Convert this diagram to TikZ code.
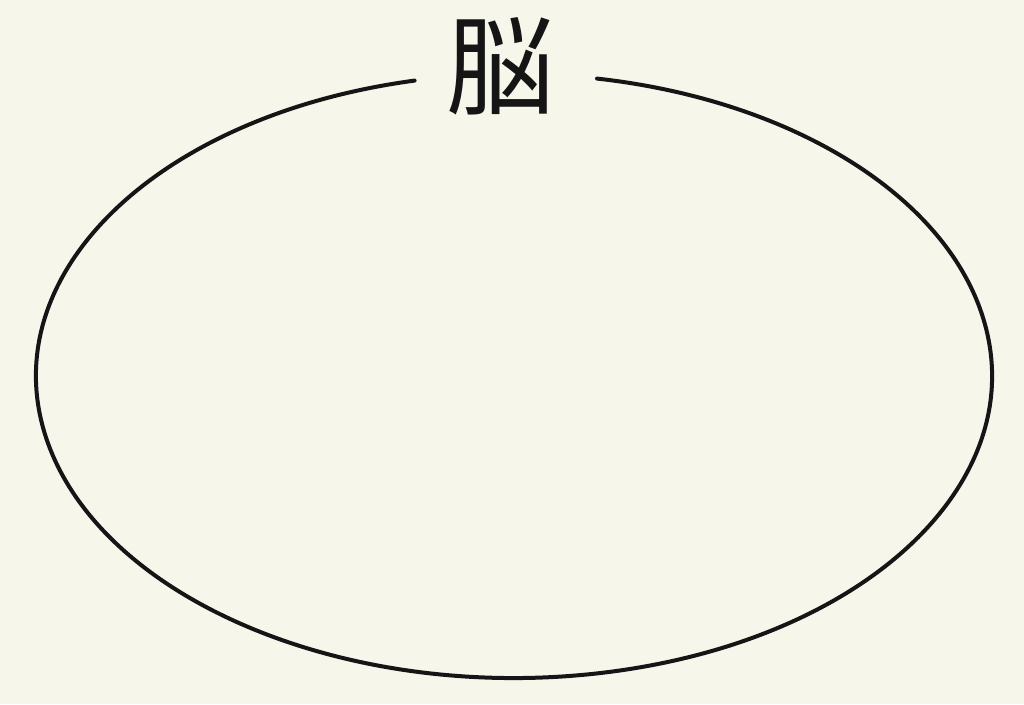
\documentclass[tikz,border=0pt]{standalone}
\usepackage{fontspec}
\newfontfamily\cjk{Noto Sans CJK JP}
\usetikzlibrary{positioning}
\definecolor{paper}{HTML}{F7F6EA}
\definecolor{ink}{HTML}{151515}
\tikzset{
  outline/.style={draw=ink, line width=4pt, line cap=round},
  title/.style={font=\cjk\fontsize{108}{108}\selectfont, text=ink, inner sep=0pt}
}
\begin{document}
\begin{tikzpicture}[x=1pt,y=1pt]
      \fill[paper] (0,0) rectangle (1024,704);
      \useasboundingbox (0,0) rectangle (1024,704);
      \coordinate (centre) at (514,328);
      \draw[outline] (centre) ++(102:478 and 302) arc[start angle=102, end angle=440, x radius=478, y radius=302];
      \node[title] (brain) at (500,638) {脳};
    \end{tikzpicture}
\end{document}
